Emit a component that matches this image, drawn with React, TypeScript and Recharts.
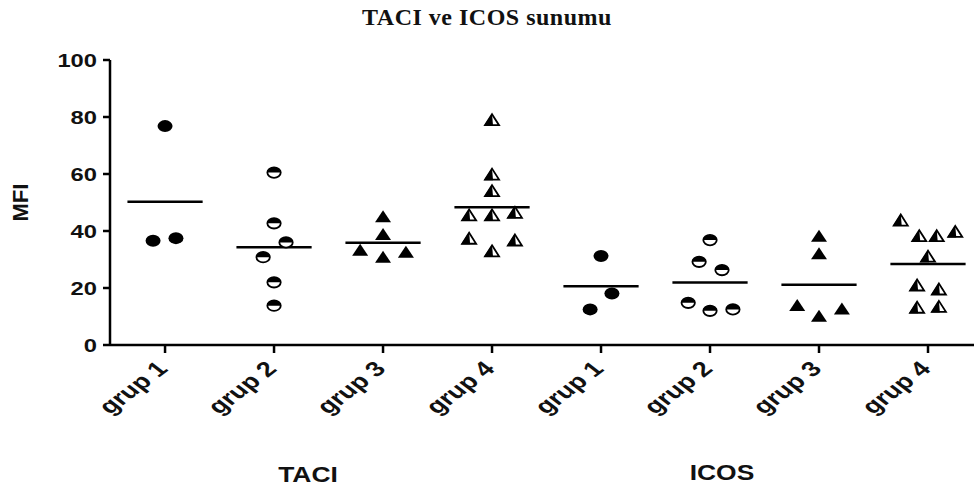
import React from 'react';
import { ScatterChart, Scatter, XAxis, YAxis, ReferenceLine } from 'recharts';

// ---- data ----
const categories = ['grup 1', 'grup 2', 'grup 3', 'grup 4', 'grup 1', 'grup 2', 'grup 3', 'grup 4'];
const panelLabels = ['TACI', 'ICOS'];
const yTicks = [0, 20, 40, 60, 80, 100];
const title = 'TACI ve ICOS sunumu';
const yLabel = 'MFI';

const taciG1 = [76.8, 36.6, 37.5];
const taciG1Jitter = [0, -0.11, 0.1];
const taciG2 = [60.5, 42.7, 36.0, 30.8, 22.0, 13.8];
const taciG2Jitter = [0, 0, 0.11, -0.1, 0, 0];
const taciG3 = [44.8, 38.6, 33.1, 30.6, 32.4];
const taciG3Jitter = [0, 0, -0.21, 0, 0.21];
const taciG4 = [78.7, 59.6, 53.8, 45.3, 45.3, 46.2, 37.1, 36.5, 32.7];
const taciG4Jitter = [0, 0, 0, -0.21, 0, 0.21, -0.21, 0.21, 0];

const icosG1 = [31.2, 18.1, 12.5];
const icosG1Jitter = [0, 0.1, -0.1];
const icosG2 = [36.8, 29.2, 26.3, 14.8, 12.0, 12.5];
const icosG2Jitter = [0, -0.1, 0.11, -0.2, 0, 0.21];
const icosG3 = [38.0, 31.8, 13.7, 9.9, 12.5];
const icosG3Jitter = [0, 0, -0.2, 0, 0.21];
const icosG4 = [43.5, 38.0, 38.0, 39.5, 30.8, 20.7, 19.3, 12.9, 13.2];
const icosG4Jitter = [-0.25, -0.08, 0.08, 0.25, 0, -0.1, 0.1, -0.1, 0.1];

const groupValues = [taciG1, taciG2, taciG3, taciG4, icosG1, icosG2, icosG3, icosG4];
const groupJitter = [taciG1Jitter, taciG2Jitter, taciG3Jitter, taciG4Jitter, icosG1Jitter, icosG2Jitter, icosG3Jitter, icosG4Jitter];
const markerKinds = ['circle', 'halfCircle', 'triangle', 'halfTriangle', 'circle', 'halfCircle', 'triangle', 'halfTriangle'];

// ---- marker shapes ----
const RX = 7.5;
const RY = 6;
const TW = 8;
const makeShape = (kind: string) => (props: any) => {
  const { cx, cy } = props;
  if (cx == null || cy == null) return <g />;
  if (kind === 'circle') {
    return <ellipse cx={cx} cy={cy} rx={RX} ry={RY} fill="#000" />;
  }
  if (kind === 'halfCircle') {
    return (
      <g>
        <ellipse cx={cx} cy={cy} rx={RX - 0.8} ry={RY - 0.8} fill="#fff" stroke="#000" strokeWidth={1.8} />
        <path d={`M${cx - RX + 0.8},${cy} A${RX - 0.8},${RY - 0.8} 0 0 1 ${cx + RX - 0.8},${cy} Z`} fill="#000" />
      </g>
    );
  }
  if (kind === 'triangle') {
    return <polygon points={`${cx},${cy - 7} ${cx + TW},${cy + 5} ${cx - TW},${cy + 5}`} fill="#000" />;
  }
  return (
    <g>
      <polygon points={`${cx},${cy - 6.5} ${cx + TW - 1},${cy + 4.5} ${cx - TW + 1},${cy + 4.5}`} fill="#fff" stroke="#000" strokeWidth={1.8} strokeLinejoin="miter" />
      <polygon points={`${cx},${cy - 7} ${cx + 1},${cy + 5} ${cx - TW},${cy + 5}`} fill="#000" />
    </g>
  );
};

const XTick = (props: any) => {
  const { x, y, payload } = props;
  const label = categories[payload.value] ?? '';
  return (
    <text
      transform={`translate(${x + 4},${y + 17}) scale(1.3,1) rotate(-45)`}
      textAnchor="end"
      fontSize={21}
      fontWeight="bold"
      fontFamily="Liberation Sans, Arial, sans-serif"
      fill="#111"
    >
      {label}
    </text>
  );
};

const YTick = (props: any) => {
  const { x, y, payload } = props;
  return (
    <text
      transform={`translate(${x},${y}) scale(1.25,1)`}
      textAnchor="end"
      dy="0.36em"
      fontSize={19}
      fontWeight="bold"
      fontFamily="Liberation Sans, Arial, sans-serif"
      fill="#111"
    >
      {payload.value}
    </text>
  );
};

const mean = (a: number[]) => a.reduce((s, v) => s + v, 0) / a.length;

export default function App() {
  const seriesData = groupValues.map((vals, gi) =>
    vals.map((v, k) => ({ x: gi + groupJitter[gi][k], y: v }))
  );
  return (
    <div style={{ position: 'absolute', left: 0, top: 0, width: 974, height: 488, background: '#fff' }}>
      <div
        style={{
          position: 'absolute',
          left: 0,
          top: 4,
          width: 974,
          textAlign: 'center',
          fontFamily: 'Liberation Serif, Times New Roman, serif',
          fontWeight: 'bold',
          fontSize: 24,
          letterSpacing: 0.5,
          color: '#111',
        }}
      >
        {title}
      </div>
      <ScatterChart width={974} height={488} margin={{ top: 60, right: 0, bottom: 0, left: 0 }}>
        <XAxis
          type="number"
          dataKey="x"
          domain={[-0.505, 7.422]}
          ticks={[0, 1, 2, 3, 4, 5, 6, 7]}
          allowDataOverflow
          height={143}
          tickSize={8}
          tickMargin={0}
          tick={<XTick />}
          axisLine={{ stroke: '#000', strokeWidth: 2.5 }}
          tickLine={{ stroke: '#000', strokeWidth: 2.5 }}
        />
        <YAxis
          type="number"
          dataKey="y"
          domain={[0, 100]}
          ticks={yTicks}
          width={110}
          tickSize={7}
          tickMargin={6}
          tick={<YTick />}
          axisLine={{ stroke: '#000', strokeWidth: 2.5 }}
          tickLine={{ stroke: '#000', strokeWidth: 2.5 }}
          label={{
            value: yLabel,
            angle: -90,
            position: 'insideLeft',
            offset: 20,
            style: { fontSize: 22, fontWeight: 'bold', fontFamily: 'Liberation Sans, Arial, sans-serif', fill: '#111', textAnchor: 'middle' },
          }}
        />
        {groupValues.map((vals, gi) => {
          const m = mean(vals);
          return (
            <ReferenceLine
              key={'m' + gi}
              segment={[{ x: gi - 0.345, y: m }, { x: gi + 0.345, y: m }]}
              stroke="#000"
              strokeWidth={2.5}
              ifOverflow="visible"
            />
          );
        })}
        {seriesData.map((d, gi) => (
          <Scatter key={'s' + gi} data={d} shape={makeShape(markerKinds[gi])} isAnimationActive={false} />
        ))}
      </ScatterChart>
      <div style={{ position: 'absolute', left: 258, top: 462, width: 100, textAlign: 'center', fontFamily: 'Liberation Sans, Arial, sans-serif', fontWeight: 'bold', fontSize: 22, color: '#111', transform: 'scaleX(1.2)' }}>
        {panelLabels[0]}
      </div>
      <div style={{ position: 'absolute', left: 672, top: 460, width: 100, textAlign: 'center', fontFamily: 'Liberation Sans, Arial, sans-serif', fontWeight: 'bold', fontSize: 22, color: '#111', transform: 'scaleX(1.2)' }}>
        {panelLabels[1]}
      </div>
    </div>
  );
}
